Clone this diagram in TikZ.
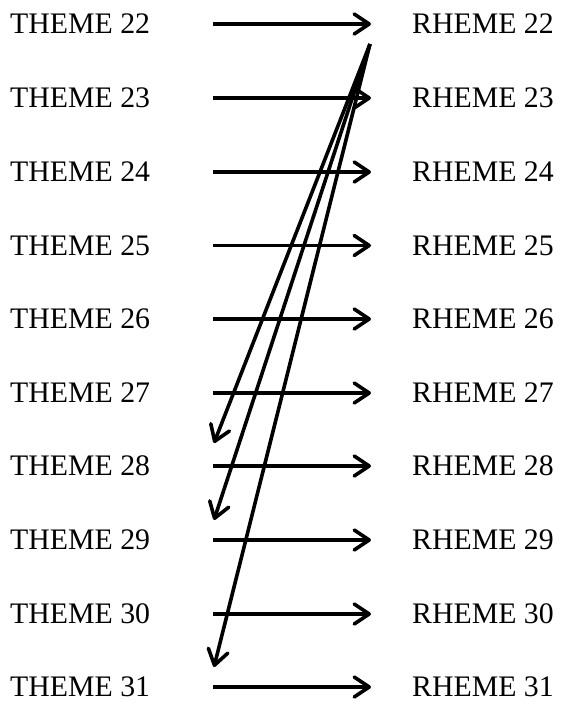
\documentclass[tikz,border=0pt]{standalone}
\usepackage{fontspec}
\setmainfont{Liberation Serif}
\usetikzlibrary{arrows.meta}
\begin{document}
\begin{tikzpicture}[x=1pt,y=-1pt,
  lbl/.style={anchor=west,inner sep=0pt,font=\fontsize{29.8}{36}\selectfont},
  arr/.style={line width=3.6pt,-{Straight Barb[length=15pt,width=20pt,line width=3.6pt,round]}}]
\useasboundingbox (0,0) rectangle (566,702);
\foreach \n/\y in {22/24,23/98,24/172,25/245.5,26/319,27/393,28/466,29/540,30/614,31/687}{
  \node[lbl] (t\n) at (10,\y) {THEME \n};
  \node[lbl] (r\n) at (412,\y) {RHEME \n};
  \coordinate (a\n) at (213,\y);
  \coordinate (b\n) at (371,\y);
  \draw[arr] (a\n) -- (b\n);
}
\coordinate (top) at (370,44);
\coordinate (e28) at (214,443);
\coordinate (e29) at (214,520);
\coordinate (e31) at (214,667);
\draw[arr] (top) -- (e28);
\draw[arr] (top) -- (e29);
\draw[arr] (top) -- (e31);
\end{tikzpicture}
\end{document}
